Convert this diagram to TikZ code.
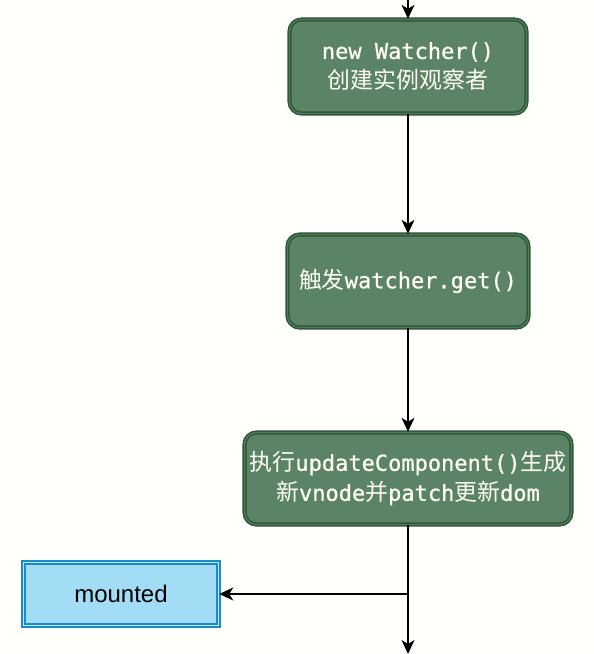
\documentclass[tikz,border=0pt]{standalone}
\usepackage{fontspec}
\setmainfont{Liberation Sans}
\newfontfamily\cjkfont[Scale=1.04]{Noto Sans CJK SC}
\newfontfamily\codefont[FakeBold=0.6]{DejaVu Sans Mono}
\usetikzlibrary{arrows.meta,shapes}
\definecolor{bgcol}{HTML}{FFFFFC}
\definecolor{stepfill}{HTML}{5B8466}
\definecolor{stepline}{HTML}{2E5537}
\definecolor{stepgap}{HTML}{4E7A5A}
\definecolor{steptext}{HTML}{FFFFF2}
\definecolor{hookfill}{HTML}{A3DCF5}
\definecolor{hookline}{HTML}{1A8CCB}
\definecolor{hookgap}{HTML}{BFE7F9}
\newcommand{\zh}[1]{{\cjkfont #1}}
\newcommand{\cd}[1]{{\codefont #1}}
\tikzstyle{process}=[rectangle,rounded corners=12pt,fill=stepfill,draw=stepline,double=stepgap,line width=1.4pt,double distance=1.4pt,text=steptext,align=center,font=\fontsize{22}{30}\selectfont,inner sep=0pt]
\tikzstyle{hook}=[rectangle,fill=hookfill,draw=hookline,double=hookgap,line width=1.5pt,double distance=1.2pt,minimum width=195pt,minimum height=63pt,font=\fontsize{24}{28}\selectfont,inner sep=0pt]
\tikzstyle{flow}=[draw,line width=1.2pt,-{Stealth[length=14pt,width=13pt,inset=4pt]}]

\begin{document}
\begin{tikzpicture}[x=1pt,y=-1pt]
    \useasboundingbox[fill=bgcol] (0,0) rectangle (594,654);
    % the three steps
    \node[process,minimum width=237pt,minimum height=94pt] (watcher) at (408,66.5) {\cd{new Watcher()}\\\zh{创建实例观察者}};
    \node[process,minimum width=241pt,minimum height=93pt] (get) at (408,281) {\zh{触发}\cd{watcher.get()}};
    \node[process,minimum width=327pt,minimum height=92pt] (update) at (408,478.5) {\zh{执行}\cd{updateComponent()}\zh{生成}\\\zh{新}\cd{vnode}\zh{并}\cd{patch}\zh{更新}\cd{dom}};
    % the hook
    \node[hook] (mounted) at (121,594) {mounted};
    % free ends
    \coordinate (in) at (408,0);
    \coordinate (split) at (408,594);
    \coordinate (out) at (408,654);
    % connect the steps
    \foreach \source/\dest in {in/watcher,watcher/get,get/update}
        \path[flow] (\source) -- (\dest);
    \draw[line width=1.2pt] (update) -- (split);
    \path[flow] (split) -- (out);
    \path[flow] (split) -- (mounted);
\end{tikzpicture}
\end{document}
